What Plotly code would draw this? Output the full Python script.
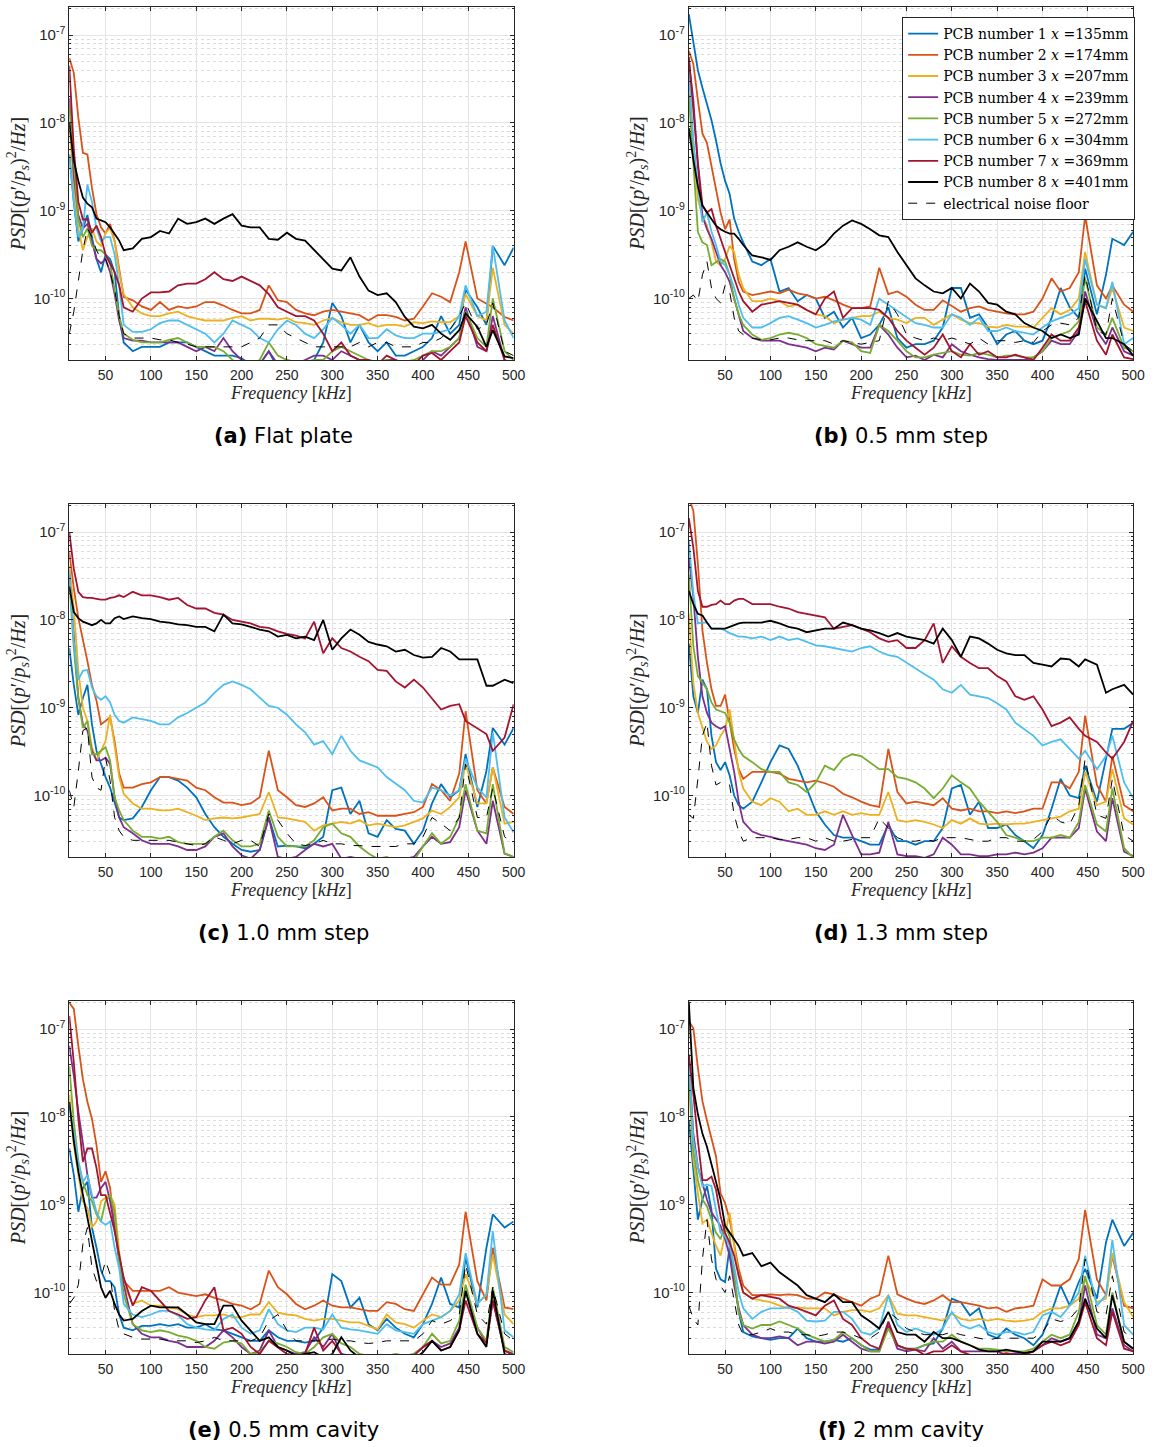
import numpy as np
import plotly.graph_objects as go

# ---------------- data (values are log10 of PSD) ----------------
FREQ_KHZ = [10, 15, 20, 25, 30, 35, 40, 45, 50, 55, 60, 65, 70,
            80, 90, 100, 110, 120, 130, 140, 150, 160, 170,
            180, 190, 200, 210, 220, 230, 240, 250, 260, 270,
            280, 290, 300, 310, 320, 330, 340, 350, 360, 370,
            380, 390, 400, 410, 420, 430, 440,
            447, 460, 470, 477, 490, 500]

SERIES_NAMES = ["PCB number 1 <i>x</i> =135mm", "PCB number 2 <i>x</i> =174mm",
                "PCB number 3 <i>x</i> =207mm", "PCB number 4 <i>x</i> =239mm",
                "PCB number 5 <i>x</i> =272mm", "PCB number 6 <i>x</i> =304mm",
                "PCB number 7 <i>x</i> =369mm", "PCB number 8 <i>x</i> =401mm",
                "electrical noise floor"]
SERIES_COLORS = ["#0072BD", "#D95319", "#EDB120", "#7E2F8E", "#77AC30",
                 "#4DBEEE", "#A2142F", "#000000", "#000000"]
CAPTIONS = ["<b>(a)</b> Flat plate", "<b>(b)</b> 0.5 mm step", "<b>(c)</b> 1.0 mm step",
            "<b>(d)</b> 1.3 mm step", "<b>(e)</b> 0.5 mm cavity", "<b>(f)</b> 2 mm cavity"]
Y_TICK_EXP = [-10, -9, -8, -7]
X_TICKS = [50, 100, 150, 200, 250, 300, 350, 400, 450, 500]

# ---- (a) flat plate ----
A1 = [-8.36, -8.9, -9.35, -9.2, -9.05, -9.3, -9.55, -9.7, -9.5, -9.55, -9.7, -10.2, -10.5,
      -10.6, -10.55, -10.55, -10.55, -10.5, -10.5, -10.5, -10.55, -10.6, -10.65,
      -10.65, -10.65, -10.68, -10.75, -10.75, -10.6, -10.8, -10.75, -10.8, -10.75,
      -10.7, -10.5, -10.05, -10.2, -10.5, -10.3, -10.5, -10.6, -10.5, -10.65,
      -10.65, -10.6, -10.55, -10.45, -10.2, -10.4, -10.3,
      -9.9, -10.1, -10.3, -9.4, -9.62, -9.42]
A2 = [-7.26, -7.43, -7.94, -8.34, -8.36, -8.74, -9.04, -9.19, -9.26, -9.15, -9.34, -9.64, -9.98,
      -10.02, -10.09, -10.13, -10.04, -10.13, -10.09, -10.11, -10.09, -10.04, -10.04,
      -10.08, -10.13, -10.17, -10.17, -10.13, -9.85, -10.02, -10.04, -10.13, -10.17,
      -10.19, -10.15, -10.13, -10.15, -10.17, -10.19, -10.25, -10.19, -10.19, -10.21,
      -10.25, -10.23, -10.09, -9.94, -9.98, -10.04, -9.7,
      -9.35, -10.0, -10.06, -10.1, -10.21, -10.25]
A3 = [-8.0, -8.7, -9.2, -9.45, -9.3, -9.2, -9.35, -9.4, -9.25, -9.2, -9.35, -9.7, -9.95,
      -10.1, -10.17, -10.2, -10.2, -10.17, -10.15, -10.2, -10.23, -10.25, -10.25,
      -10.25, -10.22, -10.2, -10.25, -10.23, -10.23, -10.24, -10.22, -10.27, -10.28,
      -10.3, -10.25, -10.22, -10.27, -10.3, -10.3, -10.28, -10.32, -10.3, -10.3,
      -10.32, -10.27, -10.28, -10.26, -10.27, -10.27, -10.2,
      -9.95, -10.2, -10.25, -9.65, -10.3, -10.4]
A4 = [-7.72, -8.6, -9.05, -9.2, -9.15, -9.35, -9.55, -9.6, -9.55, -9.7, -9.95, -10.25, -10.45,
      -10.48, -10.48, -10.5, -10.5, -10.5, -10.5, -10.55, -10.6, -10.55, -10.6,
      -10.45, -10.6, -10.7, -10.75, -10.75, -10.6, -10.75, -10.7, -10.75, -10.7,
      -10.65, -10.65, -10.7, -10.6, -10.65, -10.7, -10.7, -10.75, -10.7, -10.7,
      -10.75, -10.75, -10.7, -10.6, -10.65, -10.55, -10.45,
      -10.1, -10.55, -10.6, -10.2, -10.7, -10.75]
A5 = [-7.8, -8.5, -9.1, -9.3, -9.2, -9.4, -9.45, -9.45, -9.5, -9.6, -9.9, -10.2, -10.4,
      -10.47, -10.5, -10.5, -10.5, -10.47, -10.45, -10.5, -10.55, -10.55, -10.55,
      -10.6, -10.7, -10.75, -10.75, -10.7, -10.5, -10.65, -10.7, -10.72, -10.72,
      -10.7, -10.7, -10.6, -10.55, -10.6, -10.65, -10.7, -10.72, -10.7, -10.72,
      -10.72, -10.7, -10.65, -10.6, -10.6, -10.55, -10.45,
      -10.15, -10.45, -10.55, -10.0, -10.6, -10.7]
A6 = [-8.36, -8.9, -9.3, -9.2, -8.7, -8.9, -9.2, -9.35, -9.3, -9.3, -9.5, -9.85, -10.3,
      -10.38, -10.38, -10.35, -10.28, -10.25, -10.25, -10.3, -10.35, -10.4, -10.5,
      -10.4, -10.25, -10.3, -10.35, -10.45, -10.5, -10.35, -10.25, -10.3, -10.4,
      -10.45, -10.35, -10.22, -10.3, -10.4, -10.3, -10.45, -10.45, -10.35, -10.42,
      -10.45, -10.45, -10.4, -10.4, -10.38, -10.35, -10.2,
      -9.85, -10.2, -10.15, -9.4, -10.25, -10.45]
A7 = [-7.35, -8.3, -8.9, -9.1, -9.1, -9.25, -9.17, -9.3, -9.5, -9.6, -9.7, -9.85, -10.1,
      -10.15, -10.0, -9.93, -9.93, -9.92, -9.85, -9.83, -9.83, -9.78, -9.7,
      -9.78, -9.8, -9.75, -9.8, -9.85, -9.95, -10.1, -10.15, -10.2, -10.2,
      -10.25, -10.4, -10.6, -10.5, -10.65, -10.7, -10.7, -10.75, -10.65, -10.7,
      -10.75, -10.75, -10.65, -10.62, -10.7, -10.6, -10.5,
      -10.2, -10.5, -10.6, -10.3, -10.7, -10.75]
A8 = [-8.0, -8.43, -8.66, -8.85, -8.92, -8.96, -9.09, -9.11, -9.13, -9.19, -9.26, -9.34, -9.45,
      -9.43, -9.32, -9.3, -9.23, -9.26, -9.09, -9.15, -9.13, -9.09, -9.15,
      -9.09, -9.04, -9.17, -9.19, -9.19, -9.32, -9.33, -9.25, -9.32, -9.34,
      -9.45, -9.55, -9.66, -9.68, -9.53, -9.75, -9.91, -9.96, -9.94, -10.04,
      -10.21, -10.32, -10.34, -10.3, -10.4, -10.47, -10.36,
      -10.17, -10.32, -10.55, -10.36, -10.66, -10.68]
A9 = [-10.4, -10.15, -9.8, -9.45, -9.2, -9.3, -9.45, -9.55, -9.55, -9.7, -9.9, -10.2, -10.4,
      -10.45, -10.45, -10.45, -10.47, -10.47, -10.5, -10.52, -10.55, -10.55, -10.55,
      -10.55, -10.55, -10.55, -10.5, -10.45, -10.3, -10.3, -10.4, -10.45, -10.5,
      -10.55, -10.55, -10.55, -10.55, -10.55, -10.5, -10.55, -10.5, -10.5, -10.55,
      -10.55, -10.55, -10.5, -10.5, -10.45, -10.35, -10.2,
      -10.05, -10.35, -10.3, -10.05, -10.6, -10.65]

# ---- (b) 0.5 mm step ----
B1 = [-6.76, -7.06, -7.4, -7.6, -7.78, -7.97, -8.2, -8.46, -8.66, -8.81, -9.09, -9.24, -9.36,
      -9.58, -9.62, -9.55, -9.92, -9.88, -10.03, -9.96, -10.0, -10.22, -10.15,
      -10.33, -10.22, -10.45, -10.41, -10.3, -10.1, -10.45, -10.56, -10.52, -10.52,
      -10.48, -10.33, -9.88, -9.88, -10.22, -10.18, -10.33, -10.52, -10.41, -10.37,
      -10.48, -10.52, -10.48, -10.22, -9.88, -10.1, -10.22,
      -9.66, -10.18, -9.73, -9.32, -9.39, -9.24]
B2 = [-7.18, -7.33, -7.74, -8.12, -8.23, -8.49, -8.76, -9.02, -9.21, -9.1, -9.55, -9.81, -9.92,
      -9.96, -9.94, -9.92, -9.94, -9.9, -9.94, -9.96, -10.0, -9.98, -10.02,
      -10.07, -10.11, -10.11, -10.09, -9.65, -9.95, -9.92, -9.98, -10.07, -10.13,
      -10.13, -10.02, -10.09, -10.15, -10.11, -10.09, -10.13, -10.15, -10.17, -10.18,
      -10.18, -10.15, -10.0, -9.77, -9.92, -9.88, -9.7,
      -9.06, -9.85, -10.0, -9.85, -10.07, -10.15]
B3 = [-7.7, -8.3, -8.87, -9.06, -9.17, -9.36, -9.58, -9.62, -9.55, -9.4, -9.47, -9.73, -9.88,
      -10.03, -10.03, -10.0, -10.03, -10.09, -10.07, -10.13, -10.18, -10.2, -10.28,
      -10.24, -10.22, -10.2, -10.2, -10.15, -10.22, -10.24, -10.28, -10.22, -10.22,
      -10.3, -10.24, -10.18, -10.24, -10.28, -10.28, -10.32, -10.33, -10.3, -10.32,
      -10.32, -10.33, -10.22, -10.11, -10.18, -10.13, -10.0,
      -9.47, -10.07, -10.11, -9.88, -10.33, -10.37]
B4 = [-7.29, -7.74, -8.49, -9.06, -9.21, -9.32, -9.47, -9.62, -9.7, -9.81, -10.0, -10.18, -10.37,
      -10.45, -10.48, -10.48, -10.48, -10.52, -10.54, -10.56, -10.6, -10.56, -10.58,
      -10.48, -10.52, -10.56, -10.56, -10.3, -10.41, -10.56, -10.67, -10.65, -10.7,
      -10.64, -10.67, -10.52, -10.6, -10.64, -10.67, -10.69, -10.7, -10.7, -10.7,
      -10.7, -10.67, -10.6, -10.48, -10.52, -10.52, -10.37,
      -9.92, -10.37, -10.52, -10.33, -10.6, -10.65]
B5 = [-7.67, -8.49, -9.24, -9.36, -9.39, -9.62, -9.58, -9.55, -9.58, -9.73, -10.0, -10.18, -10.3,
      -10.41, -10.47, -10.45, -10.41, -10.39, -10.41, -10.45, -10.52, -10.54, -10.56,
      -10.48, -10.5, -10.6, -10.62, -10.3, -10.37, -10.48, -10.6, -10.67, -10.67,
      -10.64, -10.62, -10.6, -10.64, -10.65, -10.62, -10.64, -10.67, -10.65, -10.65,
      -10.67, -10.67, -10.6, -10.45, -10.41, -10.37, -10.26,
      -9.77, -10.33, -10.41, -10.22, -10.56, -10.6]
B6 = [-7.44, -8.19, -8.72, -9.13, -9.02, -9.24, -9.39, -9.58, -9.62, -9.73, -9.88, -10.07, -10.22,
      -10.33, -10.33, -10.28, -10.22, -10.2, -10.24, -10.28, -10.33, -10.3, -10.26,
      -10.24, -10.22, -10.24, -10.3, -10.0, -10.07, -10.13, -10.2, -10.28, -10.3,
      -10.33, -10.33, -10.18, -10.22, -10.3, -10.22, -10.37, -10.37, -10.33, -10.37,
      -10.39, -10.41, -10.33, -10.26, -10.22, -10.18, -10.11,
      -9.55, -10.07, -10.11, -9.81, -10.52, -10.45]
B7 = [-7.25, -7.85, -8.45, -8.94, -9.02, -8.98, -9.17, -9.32, -9.47, -9.62, -9.77, -9.92, -10.03,
      -10.15, -10.07, -10.05, -10.03, -10.05, -10.07, -10.13, -10.18, -10.0, -9.92,
      -10.22, -10.11, -10.11, -10.11, -10.13, -10.22, -10.37, -10.48, -10.56, -10.64,
      -10.56, -10.41, -10.6, -10.67, -10.52, -10.64, -10.6, -10.67, -10.67, -10.64,
      -10.67, -10.7, -10.56, -10.41, -10.48, -10.48, -10.33,
      -10.03, -10.48, -10.64, -10.41, -10.67, -10.69]
B8 = [-8.06, -8.42, -8.72, -8.94, -9.02, -9.09, -9.17, -9.21, -9.24, -9.26, -9.26, -9.32, -9.39,
      -9.51, -9.53, -9.56, -9.45, -9.41, -9.36, -9.41, -9.45, -9.38, -9.26,
      -9.17, -9.11, -9.15, -9.21, -9.28, -9.3, -9.47, -9.62, -9.77, -9.85,
      -9.92, -9.94, -9.88, -10.0, -9.83, -9.92, -10.05, -10.07, -10.15, -10.18,
      -10.28, -10.33, -10.37, -10.45, -10.41, -10.45, -10.41,
      -10.0, -10.26, -10.45, -10.45, -10.52, -10.65]
B9 = [-10.0, -9.96, -10.03, -9.73, -9.58, -9.88, -10.0, -10.05, -9.85, -9.92, -10.22, -10.37, -10.41,
      -10.45, -10.47, -10.47, -10.45, -10.45, -10.47, -10.48, -10.48, -10.48, -10.52,
      -10.48, -10.5, -10.52, -10.5, -10.48, -10.03, -10.18, -10.41, -10.45, -10.48,
      -10.45, -10.48, -10.45, -10.48, -10.52, -10.45, -10.52, -10.48, -10.48, -10.5,
      -10.48, -10.5, -10.37, -10.3, -10.28, -10.3, -10.22,
      -9.73, -10.37, -10.41, -10.0, -10.52, -10.6]

# ---- (c) 1.0 mm step ----
C1 = [-8.32, -8.74, -9.08, -8.89, -8.74, -9.19, -9.49, -9.64, -9.79, -9.91, -10.09, -10.25, -10.28,
      -10.26, -10.13, -9.94, -9.79, -9.79, -9.83, -9.91, -10.02, -10.21, -10.36,
      -10.47, -10.55, -10.62, -10.64, -10.62, -10.25, -10.58, -10.57, -10.58, -10.6,
      -10.55, -10.47, -9.94, -9.91, -10.21, -10.06, -10.43, -10.47, -10.28, -10.38,
      -10.4, -10.55, -10.4, -10.09, -9.87, -10.02, -9.94,
      -9.53, -10.13, -9.72, -9.23, -9.42, -9.23]
C2 = [-7.23, -7.64, -7.98, -8.21, -8.47, -8.74, -8.92, -9.19, -9.15, -9.11, -9.38, -9.75, -9.91,
      -9.91, -9.87, -9.85, -9.79, -9.79, -9.81, -9.83, -9.91, -9.94, -10.02,
      -10.08, -10.08, -10.11, -10.09, -10.02, -9.49, -9.94, -10.02, -10.11, -10.13,
      -10.09, -10.02, -10.17, -10.15, -10.15, -10.21, -10.19, -10.23, -10.23, -10.23,
      -10.21, -10.19, -10.13, -9.87, -9.94, -10.06, -9.75,
      -9.04, -9.94, -10.09, -9.68, -10.13, -10.21]
C3 = [-7.38, -7.87, -8.58, -9.0, -9.15, -9.45, -9.6, -9.49, -9.38, -9.08, -9.42, -9.79, -9.98,
      -10.09, -10.15, -10.15, -10.17, -10.17, -10.15, -10.19, -10.23, -10.28, -10.26,
      -10.25, -10.26, -10.25, -10.23, -10.21, -9.96, -10.25, -10.26, -10.28, -10.3,
      -10.4, -10.34, -10.32, -10.3, -10.32, -10.28, -10.34, -10.32, -10.34, -10.36,
      -10.34, -10.3, -10.26, -10.17, -10.21, -10.13, -10.02,
      -9.64, -10.09, -10.09, -9.68, -10.32, -10.3]
C4 = [-7.49, -8.21, -8.89, -9.19, -9.26, -9.49, -9.6, -9.6, -9.57, -9.64, -10.02, -10.25, -10.36,
      -10.43, -10.51, -10.55, -10.55, -10.55, -10.58, -10.62, -10.62, -10.58, -10.47,
      -10.43, -10.58, -10.68, -10.72, -10.62, -10.25, -10.7, -10.72, -10.7, -10.62,
      -10.55, -10.58, -10.55, -10.72, -10.7, -10.72, -10.74, -10.74, -10.72, -10.74,
      -10.72, -10.7, -10.58, -10.47, -10.55, -10.53, -10.36,
      -9.94, -10.4, -10.55, -10.06, -10.66, -10.7]
C5 = [-7.57, -8.32, -8.89, -9.23, -9.15, -9.53, -9.53, -9.49, -9.45, -9.6, -10.02, -10.17, -10.28,
      -10.4, -10.47, -10.47, -10.49, -10.47, -10.53, -10.55, -10.55, -10.55, -10.47,
      -10.4, -10.51, -10.58, -10.58, -10.55, -10.17, -10.47, -10.58, -10.58, -10.58,
      -10.51, -10.36, -10.32, -10.43, -10.47, -10.58, -10.66, -10.72, -10.7, -10.74,
      -10.72, -10.74, -10.58, -10.43, -10.55, -10.47, -10.25,
      -9.87, -10.4, -10.43, -9.87, -10.66, -10.7]
C6 = [-7.43, -8.25, -8.68, -8.58, -8.57, -8.77, -8.87, -8.91, -8.87, -8.94, -9.08, -9.15, -9.17,
      -9.11, -9.13, -9.15, -9.19, -9.19, -9.11, -9.06, -9.0, -8.94, -8.83,
      -8.74, -8.7, -8.74, -8.79, -8.89, -8.98, -9.0, -9.08, -9.19, -9.28,
      -9.42, -9.38, -9.53, -9.32, -9.49, -9.6, -9.64, -9.68, -9.79, -9.87,
      -9.94, -10.06, -10.08, -9.91, -9.94, -10.0, -9.94,
      -9.58, -9.91, -10.02, -9.28, -10.25, -10.42]
C7 = [-7.0, -7.42, -7.68, -7.74, -7.75, -7.75, -7.76, -7.77, -7.77, -7.75, -7.74, -7.72, -7.74,
      -7.68, -7.72, -7.72, -7.74, -7.77, -7.75, -7.83, -7.87, -7.87, -7.92,
      -7.94, -8.0, -8.02, -8.04, -8.08, -8.09, -8.13, -8.16, -8.18, -8.21,
      -8.02, -8.38, -8.21, -8.32, -8.36, -8.42, -8.47, -8.57, -8.58, -8.7,
      -8.77, -8.68, -8.77, -8.89, -9.02, -8.98, -8.96,
      -9.15, -9.23, -9.3, -9.49, -9.34, -8.96]
C8 = [-7.62, -7.91, -7.98, -8.02, -8.04, -8.06, -8.04, -8.0, -8.04, -8.04, -7.98, -7.96, -7.99,
      -7.96, -7.98, -7.99, -8.02, -8.03, -8.05, -8.06, -8.08, -8.08, -8.13,
      -7.94, -8.04, -8.05, -8.08, -8.11, -8.13, -8.19, -8.17, -8.21, -8.19,
      -8.23, -8.0, -8.34, -8.21, -8.11, -8.17, -8.25, -8.28, -8.3, -8.36,
      -8.34, -8.4, -8.43, -8.42, -8.32, -8.36, -8.45,
      -8.45, -8.45, -8.75, -8.75, -8.68, -8.72]
C9 = [-9.94, -10.13, -9.72, -9.26, -9.23, -9.79, -9.91, -9.94, -9.57, -9.83, -10.25, -10.4, -10.47,
      -10.51, -10.51, -10.51, -10.51, -10.51, -10.53, -10.55, -10.57, -10.55, -10.47,
      -10.51, -10.55, -10.51, -10.51, -10.58, -10.21, -10.28, -10.43, -10.55, -10.57,
      -10.55, -10.51, -10.55, -10.55, -10.57, -10.57, -10.58, -10.58, -10.58, -10.58,
      -10.55, -10.55, -10.47, -10.25, -10.32, -10.4, -10.25,
      -9.64, -10.25, -10.25, -9.91, -10.47, -10.55]

# ---- (d) 1.3 mm step ----
D1 = [-8.27, -8.87, -9.06, -8.68, -8.79, -9.32, -9.62, -9.71, -9.62, -9.77, -10.0, -10.11, -10.15,
      -10.07, -9.85, -9.62, -9.43, -9.47, -9.66, -9.92, -10.18, -10.33, -10.45,
      -10.48, -10.48, -10.52, -10.56, -10.56, -10.33, -10.52, -10.52, -10.56, -10.52,
      -10.52, -10.37, -9.92, -9.88, -10.22, -10.07, -10.37, -10.37, -10.33, -10.45,
      -10.52, -10.6, -10.45, -10.15, -9.81, -10.0, -10.03,
      -9.66, -10.07, -9.58, -9.24, -9.24, -9.17]
D2 = [-6.6, -6.76, -7.36, -8.12, -8.49, -8.79, -8.98, -8.98, -8.85, -9.17, -9.47, -9.7, -9.81,
      -9.73, -9.73, -9.73, -9.75, -9.81, -9.83, -9.85, -9.83, -9.86, -9.9,
      -9.98, -10.02, -10.07, -10.11, -10.13, -9.47, -9.96, -10.09, -10.07, -10.09,
      -10.11, -10.03, -10.15, -10.17, -10.15, -10.18, -10.18, -10.2, -10.18, -10.2,
      -10.18, -10.15, -10.15, -9.85, -9.85, -9.92, -9.73,
      -9.09, -9.88, -10.07, -9.55, -10.11, -10.18]
D3 = [-7.93, -8.72, -9.06, -9.24, -9.39, -9.47, -9.43, -9.32, -9.24, -9.02, -9.36, -9.73, -9.92,
      -10.07, -10.11, -10.03, -10.07, -10.18, -10.15, -10.22, -10.22, -10.18, -10.22,
      -10.18, -10.22, -10.2, -10.22, -10.22, -9.96, -10.28, -10.3, -10.28, -10.3,
      -10.33, -10.37, -10.28, -10.32, -10.26, -10.32, -10.33, -10.32, -10.33, -10.32,
      -10.32, -10.3, -10.28, -10.26, -10.24, -10.18, -10.15,
      -9.73, -10.11, -10.07, -9.7, -10.26, -10.33]
D4 = [-7.29, -7.74, -8.42, -8.87, -9.06, -9.17, -9.21, -9.24, -9.21, -9.47, -9.73, -10.07, -10.3,
      -10.41, -10.45, -10.47, -10.5, -10.52, -10.54, -10.56, -10.6, -10.62, -10.56,
      -10.22, -10.45, -10.67, -10.67, -10.65, -10.3, -10.67, -10.69, -10.69, -10.71,
      -10.67, -10.48, -10.56, -10.67, -10.67, -10.69, -10.69, -10.67, -10.67, -10.65,
      -10.67, -10.65, -10.6, -10.48, -10.48, -10.48, -10.37,
      -9.92, -10.41, -10.52, -10.03, -10.64, -10.69]
D5 = [-7.48, -8.3, -8.64, -8.72, -8.79, -8.94, -9.02, -9.04, -9.06, -9.17, -9.36, -9.47, -9.55,
      -9.62, -9.7, -9.73, -9.73, -9.85, -9.88, -9.96, -9.85, -9.66, -9.71,
      -9.58, -9.53, -9.55, -9.62, -9.7, -9.7, -9.79, -9.81, -9.85, -9.92,
      -10.03, -9.92, -9.77, -9.85, -9.92, -10.07, -10.18, -10.3, -10.45, -10.48,
      -10.52, -10.52, -10.48, -10.48, -10.45, -10.48, -10.3,
      -9.88, -10.33, -10.41, -9.92, -10.6, -10.71]
D6 = [-7.1, -7.7, -8.04, -8.03, -8.03, -8.1, -8.1, -8.1, -8.12, -8.15, -8.17, -8.19, -8.19,
      -8.21, -8.19, -8.23, -8.19, -8.23, -8.21, -8.25, -8.29, -8.3, -8.32,
      -8.34, -8.36, -8.32, -8.3, -8.36, -8.4, -8.42, -8.49, -8.55, -8.62,
      -8.68, -8.79, -8.83, -8.74, -8.85, -8.87, -8.89, -8.95, -9.02, -9.17,
      -9.24, -9.32, -9.43, -9.39, -9.36, -9.47, -9.58,
      -9.49, -9.7, -9.55, -9.32, -9.85, -10.03]
D7 = [-6.84, -7.18, -7.67, -7.85, -7.85, -7.83, -7.82, -7.78, -7.82, -7.82, -7.78, -7.76, -7.76,
      -7.82, -7.82, -7.82, -7.85, -7.87, -7.91, -7.93, -7.95, -7.97, -8.1,
      -8.08, -8.06, -8.1, -8.14, -8.21, -8.25, -8.23, -8.32, -8.32, -8.23,
      -8.04, -8.49, -8.3, -8.42, -8.49, -8.55, -8.55, -8.64, -8.7, -8.87,
      -8.91, -8.87, -9.02, -9.21, -9.17, -9.11, -9.24,
      -9.32, -9.39, -9.51, -9.58, -9.39, -9.15]
D8 = [-7.67, -7.82, -7.93, -7.95, -8.03, -8.1, -8.1, -8.1, -8.1, -8.08, -8.06, -8.04, -8.03,
      -8.03, -8.03, -8.01, -8.04, -8.08, -8.1, -8.14, -8.12, -8.1, -8.1,
      -8.03, -8.06, -8.1, -8.12, -8.15, -8.19, -8.15, -8.19, -8.21, -8.23,
      -8.27, -8.1, -8.23, -8.42, -8.19, -8.21, -8.27, -8.34, -8.38, -8.4,
      -8.4, -8.49, -8.51, -8.53, -8.44, -8.45, -8.53,
      -8.45, -8.51, -8.83, -8.79, -8.74, -8.85]
D9 = [-10.22, -10.26, -9.81, -9.32, -9.17, -9.66, -9.88, -9.85, -9.85, -9.88, -10.22, -10.41, -10.52,
      -10.48, -10.48, -10.48, -10.5, -10.5, -10.48, -10.48, -10.52, -10.48, -10.52,
      -10.52, -10.5, -10.48, -10.48, -10.26, -10.37, -10.48, -10.52, -10.52, -10.5,
      -10.52, -10.48, -10.48, -10.48, -10.5, -10.52, -10.52, -10.48, -10.48, -10.52,
      -10.52, -10.5, -10.41, -10.22, -10.3, -10.33, -10.11,
      -9.58, -10.22, -10.26, -9.81, -10.45, -10.52]

# ---- (e) 0.5 mm cavity ----
E1 = [-8.36, -8.66, -9.08, -8.81, -8.74, -9.26, -9.49, -9.75, -9.87, -9.87, -9.94, -10.25, -10.4,
      -10.43, -10.38, -10.38, -10.36, -10.38, -10.36, -10.4, -10.4, -10.36, -10.42,
      -10.43, -10.47, -10.51, -10.55, -10.55, -10.43, -10.51, -10.55, -10.55, -10.57,
      -10.55, -10.4, -9.79, -9.87, -10.17, -10.06, -10.36, -10.43, -10.3, -10.4,
      -10.47, -10.51, -10.36, -10.13, -9.83, -10.13, -10.17,
      -9.6, -10.17, -9.49, -9.11, -9.26, -9.19]
E2 = [-6.7, -6.77, -7.19, -7.57, -7.83, -8.02, -8.32, -8.74, -8.62, -8.81, -9.26, -9.6, -9.87,
      -9.98, -9.98, -9.98, -9.98, -9.94, -10.0, -10.02, -10.04, -10.02, -10.06,
      -10.09, -10.13, -10.15, -10.19, -10.13, -9.75, -9.94, -10.02, -10.13, -10.19,
      -10.15, -10.09, -10.15, -10.17, -10.17, -10.19, -10.21, -10.21, -10.11, -10.13,
      -10.19, -10.21, -10.02, -9.83, -9.91, -9.91, -9.68,
      -9.08, -9.87, -10.09, -9.49, -10.17, -10.19]
E3 = [-7.75, -8.32, -8.66, -8.96, -9.04, -9.26, -9.19, -8.96, -8.92, -8.89, -9.0, -9.53, -9.91,
      -10.13, -10.09, -10.15, -10.15, -10.17, -10.19, -10.25, -10.28, -10.26, -10.26,
      -10.25, -10.28, -10.28, -10.25, -10.25, -10.11, -10.23, -10.25, -10.26, -10.3,
      -10.32, -10.3, -10.3, -10.32, -10.34, -10.34, -10.38, -10.42, -10.25, -10.34,
      -10.36, -10.4, -10.32, -10.25, -10.28, -10.21, -10.09,
      -9.79, -10.13, -10.02, -9.57, -10.25, -10.36]
E4 = [-7.19, -7.53, -7.94, -8.32, -8.66, -8.92, -8.92, -8.81, -8.74, -8.96, -9.26, -9.64, -9.91,
      -10.36, -10.47, -10.51, -10.51, -10.55, -10.57, -10.62, -10.62, -10.62, -10.55,
      -10.43, -10.51, -10.62, -10.7, -10.66, -10.43, -10.62, -10.66, -10.7, -10.68,
      -10.51, -10.62, -10.47, -10.7, -10.72, -10.74, -10.74, -10.72, -10.74, -10.74,
      -10.74, -10.7, -10.62, -10.55, -10.62, -10.58, -10.4,
      -9.98, -10.4, -10.58, -10.09, -10.66, -10.7]
E5 = [-7.42, -8.06, -8.51, -8.74, -8.89, -8.96, -9.11, -9.19, -8.96, -8.89, -9.08, -9.64, -10.02,
      -10.36, -10.43, -10.45, -10.43, -10.45, -10.49, -10.51, -10.55, -10.62, -10.64,
      -10.57, -10.55, -10.58, -10.7, -10.68, -10.55, -10.58, -10.62, -10.68, -10.7,
      -10.62, -10.51, -10.47, -10.58, -10.62, -10.7, -10.72, -10.74, -10.72, -10.7,
      -10.72, -10.7, -10.62, -10.47, -10.58, -10.55, -10.32,
      -9.91, -10.4, -10.55, -9.94, -10.62, -10.68]
E6 = [-7.87, -8.21, -8.51, -8.74, -8.66, -8.89, -9.08, -9.19, -9.23, -9.19, -9.49, -9.72, -10.13,
      -10.25, -10.28, -10.25, -10.21, -10.21, -10.26, -10.36, -10.4, -10.42, -10.43,
      -10.3, -10.25, -10.4, -10.47, -10.43, -10.19, -10.36, -10.43, -10.45, -10.4,
      -10.4, -10.42, -10.25, -10.4, -10.42, -10.43, -10.45, -10.47, -10.36, -10.43,
      -10.45, -10.47, -10.36, -10.32, -10.28, -10.21, -10.02,
      -9.55, -10.13, -10.02, -9.3, -10.43, -10.51]
E7 = [-6.85, -7.38, -8.02, -8.51, -8.36, -8.36, -8.58, -8.89, -8.89, -9.11, -9.3, -9.57, -9.83,
      -10.15, -9.94, -9.98, -10.09, -10.21, -10.25, -10.3, -10.28, -10.09, -9.94,
      -10.43, -10.4, -10.47, -10.62, -10.7, -10.55, -10.62, -10.7, -10.72, -10.7,
      -10.4, -10.66, -10.55, -10.7, -10.74, -10.74, -10.74, -10.74, -10.74, -10.74,
      -10.74, -10.72, -10.62, -10.55, -10.66, -10.62, -10.43,
      -10.09, -10.47, -10.58, -10.09, -10.66, -10.72]
E8 = [-7.83, -8.28, -8.62, -8.89, -9.15, -9.42, -9.68, -9.94, -10.06, -9.98, -10.13, -10.25, -10.32,
      -10.3, -10.21, -10.15, -10.17, -10.17, -10.17, -10.25, -10.34, -10.36, -10.36,
      -10.15, -10.15, -10.32, -10.43, -10.55, -10.51, -10.62, -10.66, -10.72, -10.7,
      -10.68, -10.74, -10.7, -10.51, -10.66, -10.74, -10.76, -10.76, -10.76, -10.76,
      -10.76, -10.76, -10.68, -10.55, -10.66, -10.62, -10.43,
      -9.98, -10.47, -10.62, -9.98, -10.7, -10.74]
E9 = [-10.13, -10.06, -9.91, -9.45, -9.26, -9.72, -9.87, -9.83, -9.64, -9.79, -10.21, -10.43, -10.47,
      -10.51, -10.53, -10.53, -10.53, -10.55, -10.55, -10.55, -10.57, -10.55, -10.51,
      -10.55, -10.55, -10.55, -10.55, -10.51, -10.32, -10.25, -10.43, -10.55, -10.55,
      -10.55, -10.55, -10.53, -10.55, -10.55, -10.57, -10.58, -10.57, -10.55, -10.55,
      -10.55, -10.55, -10.47, -10.32, -10.36, -10.32, -10.25,
      -9.68, -10.25, -10.36, -9.94, -10.47, -10.55]

# ---- (f) 2 mm cavity ----
F1 = [-8.04, -8.64, -9.17, -8.94, -8.79, -9.06, -9.73, -9.85, -9.88, -9.47, -9.85, -10.22, -10.45,
      -10.5, -10.52, -10.54, -10.52, -10.52, -10.41, -10.52, -10.56, -10.56, -10.54,
      -10.56, -10.52, -10.6, -10.65, -10.65, -10.37, -10.6, -10.64, -10.64, -10.6,
      -10.58, -10.41, -10.07, -10.11, -10.26, -10.18, -10.48, -10.52, -10.41, -10.48,
      -10.52, -10.6, -10.48, -10.22, -9.92, -10.15, -9.88,
      -9.73, -10.07, -9.43, -9.17, -9.47, -9.32]
F2 = [-6.91, -6.99, -7.44, -7.82, -8.04, -8.23, -8.45, -8.87, -8.98, -9.17, -9.47, -9.73, -9.92,
      -10.03, -10.03, -10.02, -10.03, -10.02, -10.03, -10.07, -10.07, -10.0, -10.02,
      -10.07, -10.11, -10.15, -10.07, -10.03, -9.58, -10.02, -10.07, -10.11, -10.13,
      -10.09, -10.03, -10.11, -10.11, -10.13, -10.15, -10.18, -10.17, -10.22, -10.18,
      -10.17, -10.15, -9.85, -9.92, -9.92, -9.85, -9.62,
      -9.06, -9.85, -10.03, -9.58, -10.15, -10.18]
F3 = [-7.59, -8.49, -8.87, -9.21, -9.17, -9.32, -9.47, -9.58, -9.32, -9.09, -9.47, -9.81, -10.0,
      -10.07, -10.09, -10.11, -10.15, -10.18, -10.17, -10.18, -10.18, -10.18, -10.26,
      -10.22, -10.2, -10.2, -10.22, -10.18, -10.03, -10.24, -10.26, -10.26, -10.28,
      -10.3, -10.32, -10.24, -10.3, -10.32, -10.3, -10.32, -10.3, -10.32, -10.33,
      -10.32, -10.3, -10.22, -10.18, -10.18, -10.15, -10.07,
      -9.85, -10.11, -10.07, -9.55, -10.11, -10.28]
F4 = [-7.36, -8.19, -8.57, -8.76, -8.94, -9.09, -9.17, -9.24, -9.39, -9.58, -9.92, -10.18, -10.37,
      -10.48, -10.52, -10.52, -10.5, -10.52, -10.6, -10.56, -10.56, -10.58, -10.56,
      -10.48, -10.56, -10.64, -10.67, -10.67, -10.37, -10.64, -10.67, -10.65, -10.67,
      -10.52, -10.64, -10.56, -10.67, -10.67, -10.67, -10.67, -10.67, -10.71, -10.69,
      -10.69, -10.67, -10.6, -10.52, -10.56, -10.52, -10.33,
      -9.92, -10.48, -10.52, -10.18, -10.6, -10.67]
F5 = [-7.48, -8.38, -8.72, -8.94, -9.02, -9.17, -9.32, -9.39, -9.24, -9.36, -9.81, -10.22, -10.37,
      -10.41, -10.37, -10.37, -10.33, -10.37, -10.41, -10.48, -10.52, -10.56, -10.54,
      -10.45, -10.52, -10.6, -10.67, -10.67, -10.41, -10.6, -10.65, -10.64, -10.6,
      -10.56, -10.56, -10.48, -10.56, -10.6, -10.64, -10.64, -10.65, -10.67, -10.67,
      -10.67, -10.64, -10.56, -10.48, -10.52, -10.48, -10.22,
      -9.81, -10.37, -10.48, -10.0, -10.56, -10.64]
F6 = [-7.29, -8.27, -8.57, -8.79, -8.77, -8.79, -9.06, -9.32, -9.36, -9.47, -9.7, -10.0, -10.18,
      -10.3, -10.22, -10.18, -10.18, -10.17, -10.22, -10.32, -10.33, -10.32, -10.22,
      -10.22, -10.3, -10.45, -10.48, -10.41, -10.03, -10.37, -10.45, -10.41, -10.45,
      -10.48, -10.41, -10.22, -10.37, -10.41, -10.37, -10.45, -10.48, -10.45, -10.45,
      -10.48, -10.45, -10.26, -10.22, -10.28, -10.15, -10.0,
      -9.58, -10.15, -10.03, -9.4, -10.37, -10.48]
F7 = [-7.29, -7.74, -8.27, -8.72, -8.72, -8.68, -8.83, -9.13, -9.32, -9.43, -9.58, -9.81, -10.0,
      -10.07, -10.03, -10.05, -10.07, -10.15, -10.18, -10.22, -10.26, -10.15, -10.09,
      -10.3, -10.37, -10.52, -10.6, -10.64, -10.33, -10.6, -10.64, -10.65, -10.71,
      -10.67, -10.67, -10.6, -10.67, -10.71, -10.71, -10.71, -10.71, -10.69, -10.71,
      -10.71, -10.67, -10.6, -10.56, -10.6, -10.56, -10.37,
      -10.11, -10.52, -10.6, -10.22, -10.64, -10.67]
F8 = [-6.69, -7.67, -7.97, -8.19, -8.34, -8.53, -8.72, -8.94, -9.24, -9.32, -9.39, -9.47, -9.58,
      -9.55, -9.7, -9.66, -9.77, -9.85, -9.92, -10.03, -10.07, -10.11, -10.02,
      -10.11, -10.11, -10.26, -10.33, -10.41, -10.22, -10.45, -10.48, -10.48, -10.56,
      -10.45, -10.52, -10.52, -10.56, -10.6, -10.65, -10.67, -10.67, -10.65, -10.67,
      -10.69, -10.67, -10.56, -10.56, -10.56, -10.52, -10.33,
      -10.07, -10.41, -10.52, -10.03, -10.56, -10.64]
F9 = [-10.15, -10.3, -10.37, -9.62, -9.17, -9.62, -9.85, -9.92, -10.0, -9.81, -10.07, -10.37, -10.48,
      -10.48, -10.45, -10.41, -10.45, -10.45, -10.48, -10.48, -10.5, -10.48, -10.45,
      -10.45, -10.48, -10.52, -10.52, -10.45, -10.22, -10.3, -10.41, -10.45, -10.48,
      -10.48, -10.48, -10.45, -10.48, -10.5, -10.52, -10.54, -10.52, -10.52, -10.52,
      -10.52, -10.52, -10.45, -10.3, -10.33, -10.3, -10.18,
      -9.62, -10.22, -10.26, -9.81, -10.45, -10.52]

PANELS = [
    [A1, A2, A3, A4, A5, A6, A7, A8, A9],
    [B1, B2, B3, B4, B5, B6, B7, B8, B9],
    [C1, C2, C3, C4, C5, C6, C7, C8, C9],
    [D1, D2, D3, D4, D5, D6, D7, D8, D9],
    [E1, E2, E3, E4, E5, E6, E7, E8, E9],
    [F1, F2, F3, F4, F5, F6, F7, F8, F9],
]

bad = []
for pi, p in enumerate(PANELS):
    for si, s in enumerate(p):
        if len(s) != len(FREQ_KHZ):
            bad.append(f"panel {pi} series {si}: {len(s)}")
if bad:
    raise ValueError("; ".join(bad))

# ---------------- layout geometry (pixels) ----------------
W, H = 1164, 1447
COL_X = [(70, 519), (696, 1145)]
ROW_Y = [(7, 360), (504, 857), (1001, 1354)]
CAPTION_X = [286, 910]
CAPTION_Y = [436, 933, 1430]

AX_COLOR = "#262626"
GRID = "#e4e4e4"
MINOR_GRID = "#dcdcdc"
XTICK_FONT = dict(family="Liberation Sans, Arial, sans-serif", size=14, color=AX_COLOR)
YTICK_FONT = dict(family="Liberation Sans, Arial, sans-serif", size=15, color=AX_COLOR)
SERIF = "Liberation Serif, Times New Roman, serif"

fig = go.Figure()
layout = dict(width=W, height=H, margin=dict(l=0, r=0, t=0, b=0),
              paper_bgcolor="white", plot_bgcolor="white", showlegend=True)
annotations = []

minor_vals = [k * 10.0 ** e for e in range(-11, -6) for k in range(2, 10)]

for i, panel in enumerate(PANELS):
    row, col = divmod(i, 2)
    x0, x1 = COL_X[col]
    y0, y1 = ROW_Y[row]
    xname = "xaxis" if i == 0 else f"xaxis{i + 1}"
    yname = "yaxis" if i == 0 else f"yaxis{i + 1}"
    xref = "x" if i == 0 else f"x{i + 1}"
    yref = "y" if i == 0 else f"y{i + 1}"
    layout[xname] = dict(
        domain=[x0 / W, x1 / W], anchor=yref, range=[10, 500],
        tickmode="array", tickvals=X_TICKS, ticktext=[str(v) for v in X_TICKS],
        showgrid=True, gridcolor=GRID, gridwidth=1, zeroline=False,
        showline=True, linecolor=AX_COLOR, linewidth=1, mirror="ticks",
        ticks="inside", ticklen=4, tickcolor=AX_COLOR, tickfont=XTICK_FONT,
        ticklabelstandoff=2,
    )
    layout[yname] = dict(
        domain=[1 - y1 / H, 1 - y0 / H], anchor=xref, type="log",
        range=[-10.7, -6.68],
        tickmode="array", tickvals=[10.0 ** e for e in Y_TICK_EXP],
        ticktext=[f"10<sup>{e}</sup>" for e in Y_TICK_EXP],
        showgrid=True, gridcolor=GRID, gridwidth=1, zeroline=False,
        showline=True, linecolor=AX_COLOR, linewidth=1, mirror="ticks",
        ticks="inside", ticklen=4, tickcolor=AX_COLOR, tickfont=YTICK_FONT,
        minor=dict(tickmode="array", tickvals=minor_vals, ticks="inside", ticklen=2,
                   tickcolor=AX_COLOR, showgrid=True, gridcolor=MINOR_GRID,
                   griddash="dot", gridwidth=1),
    )
    for si, vals in enumerate(panel):
        is_noise = si == 8
        fig.add_trace(go.Scatter(
            x=FREQ_KHZ, y=10.0 ** np.array(vals), mode="lines",
            name=SERIES_NAMES[si],
            line=dict(color=SERIES_COLORS[si], width=1.0 if is_noise else 1.8,
                      dash="dash" if is_noise else "solid"),
            xaxis=xref, yaxis=yref, showlegend=(i == 1),
        ))
    # axis titles
    annotations.append(dict(
        text="<i>Frequency</i> [<i>kHz</i>]", x=(x0 + x1) / 2 / W, y=1 - (y1 + 33) / H,
        xref="paper", yref="paper", showarrow=False, xanchor="center", yanchor="middle",
        font=dict(family=SERIF, size=18, color=AX_COLOR)))
    annotations.append(dict(
        text="<i>PSD</i>[(<i>p</i>′/<i>p<sub>s</sub></i>)<sup>2</sup>/<i>Hz</i>]",
        x=(x0 - 52) / W, y=1 - (y0 + y1) / 2 / H, textangle=-90,
        xref="paper", yref="paper", showarrow=False, xanchor="center", yanchor="middle",
        font=dict(family=SERIF, size=20, color=AX_COLOR)))
    annotations.append(dict(
        text=CAPTIONS[i], x=CAPTION_X[col] / W, y=1 - CAPTION_Y[row] / H,
        xref="paper", yref="paper", showarrow=False, xanchor="center", yanchor="middle",
        font=dict(family="DejaVu Sans, Verdana, sans-serif", size=21, color="#000000")))

layout["annotations"] = annotations
layout["legend"] = dict(
    x=1147 / W, y=1 - 17 / H, xanchor="right", yanchor="top",
    bgcolor="white", bordercolor=AX_COLOR, borderwidth=1,
    font=dict(family="DejaVu Serif, Liberation Serif, serif", size=14, color="#000000"),
    tracegroupgap=0, itemwidth=30,
)
fig.update_layout(**layout)
fig.write_html("out.html")
